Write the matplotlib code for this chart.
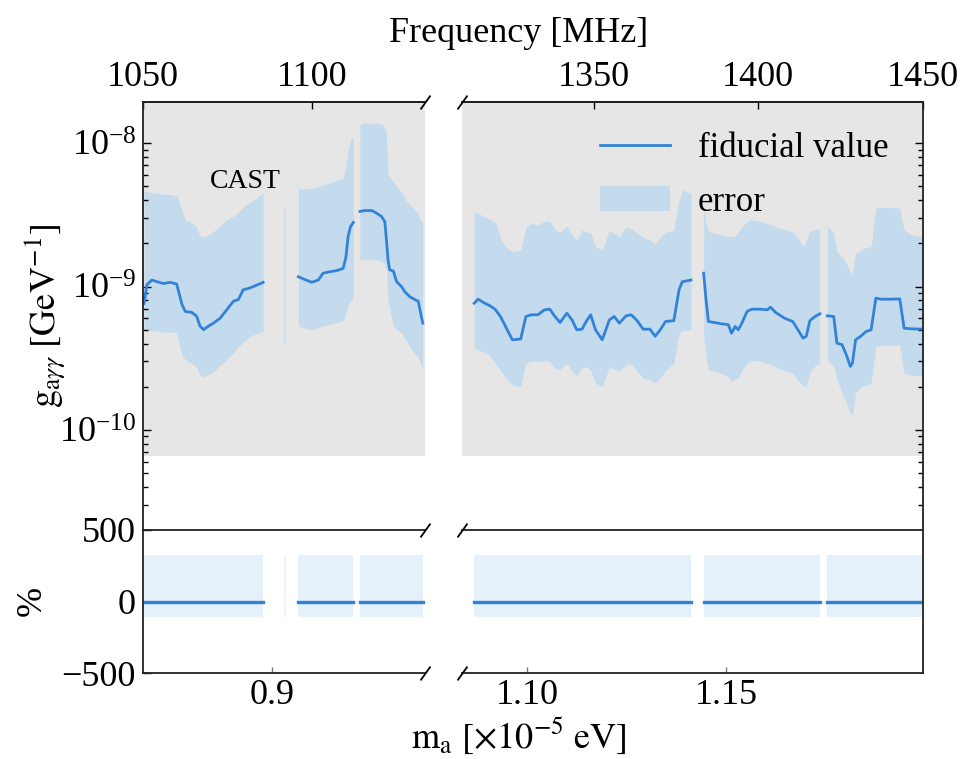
import numpy as np
import matplotlib.pyplot as plt

plt.rcParams['font.family'] = ['Liberation Serif', 'DejaVu Serif']
plt.rcParams['mathtext.fontset'] = 'stix'

# axion mass [1e-5 eV] -> radio line frequency [MHz], f = m c^2 / (2h)
MHZ_PER_MASS = 1209.0

# CAST bound and coupling values, g in units of 1e-10 GeV^-1
cast_limit = 0.66

# --- left block (1050-1134 MHz) ---
mass_a = [0.8687, 0.8694, 0.8706, 0.8719, 0.8735, 0.8751, 0.8767, 0.8780, 0.8788, 0.8804,
          0.8816, 0.8824, 0.8833, 0.8845, 0.8857, 0.8873, 0.8890, 0.8906, 0.8918, 0.8930,
          0.8943, 0.8955, 0.8979]
fid_a = [7.6, 10.3, 11.1, 10.8, 10.5, 10.7, 10.4, 7.5, 6.7, 6.6,
         6.2, 5.3, 5.0, 5.3, 5.55, 6.0, 6.9, 7.9, 8.1, 9.5,
         9.7, 10.0, 10.7]
up_a = [46, 46, 45, 45, 44, 44, 43, 34, 29, 28,
        26, 22.5, 22.3, 23.0, 24.2, 26.5, 29.2, 31, 33, 36,
        38, 40, 45]
lo_a = [5.0, 5.0, 4.9, 4.9, 4.8, 4.8, 4.8, 3.3, 3.1, 2.9,
        2.7, 2.4, 2.35, 2.45, 2.55, 2.8, 3.1, 3.45, 3.8, 4.1,
        4.4, 4.6, 4.85]

mass_s = [0.9031, 0.9035]
up_s = [36, 36]
lo_s = [4.0, 4.0]

mass_b = [0.9065, 0.9081, 0.9098, 0.9114, 0.9126, 0.9143, 0.9159, 0.9175, 0.9182, 0.9187,
          0.9193, 0.9200]
fid_b = [11.7, 11.2, 10.7, 11.1, 12.4, 12.7, 12.9, 13.4, 16.2, 22.3, 26.2, 28.0]
up_b = [47.8, 48, 48.5, 49.5, 51, 53, 55, 57, 70, 90, 105, 112]
lo_b = [5.3, 5.1, 5.0, 5.2, 5.3, 5.45, 5.6, 5.8, 6.5, 7.5, 8.0, 8.3]

mass_c = [0.9216, 0.9228, 0.9245, 0.9257, 0.9269, 0.9277, 0.9281, 0.9285, 0.9289, 0.9298,
          0.9306, 0.9318, 0.9326, 0.9338, 0.9351, 0.9359, 0.9365, 0.9370]
fid_c = [33.4, 33.9, 33.9, 32.5, 30.8, 28.4, 21.2, 15.3, 13.1, 12.8,
         10.8, 10.0, 9.2, 8.5, 8.1, 7.9, 6.5, 5.55]
up_c = [135, 138, 138, 138, 136, 130, 115, 60, 58, 54,
        50, 45.5, 41, 37.5, 34.5, 32, 29, 27.7]
lo_c = [15.4, 15.4, 15.4, 15.3, 15.0, 14.5, 13, 8.0, 7.0, 5.3,
        5.0, 4.75, 4.4, 3.8, 3.4, 3.2, 2.9, 2.6]

# --- right block (1310-1450 MHz) ---
mass_d = [1.0866, 1.0876, 1.0889, 1.0906, 1.0919, 1.0932, 1.0945, 1.0962, 1.0983, 1.0996,
          1.1009, 1.1026, 1.1043, 1.1056, 1.1069, 1.1082, 1.1099, 1.1112, 1.1124, 1.1137,
          1.1150, 1.1159, 1.1171, 1.1188, 1.1206, 1.1218, 1.1231, 1.1248, 1.1261, 1.1274,
          1.1291, 1.1308, 1.1321, 1.1334, 1.1347, 1.1368, 1.1381, 1.1389, 1.1411]
fid_d = [7.65, 8.16, 7.75, 7.33, 6.92, 6.18, 5.26, 4.25, 4.3, 6.18,
         6.35, 6.35, 6.88, 6.95, 6.18, 5.61, 6.52, 5.85, 4.99, 5.04,
         5.85, 6.35, 4.99, 4.25, 5.85, 6.18, 5.55, 6.25, 6.35, 5.85,
         5.04, 5.04, 4.50, 4.99, 5.70, 5.78, 9.48, 10.8, 11.1]
up_d = [33.4, 32.5, 30.8, 29.5, 28, 22, 19, 17.5, 17.9, 26,
        27.5, 27, 28.5, 28.5, 25, 24, 26.5, 23, 21, 24.8,
        24, 23.5, 19, 17.9, 24.8, 23.5, 22.3, 26, 25.5, 23.8,
        22, 21, 20, 22, 23.8, 24.8, 40, 47, 45]
lo_d = [3.72, 3.6, 3.5, 3.3, 2.9, 2.6, 2.3, 2.05, 2.0, 2.9,
        3.0, 3.0, 3.05, 3.0, 2.7, 2.65, 2.9, 2.55, 2.4, 2.7,
        2.75, 2.6, 2.12, 2.0, 2.76, 2.65, 2.55, 2.85, 2.85, 2.6,
        2.3, 2.23, 2.12, 2.3, 2.6, 2.9, 4.7, 4.9, 5.0]

mass_e = [1.1443, 1.1449, 1.1455, 1.1470, 1.1488, 1.1505, 1.1513, 1.1522, 1.1530, 1.1539,
          1.1552, 1.1564, 1.1586, 1.1603, 1.1611, 1.1624, 1.1646, 1.1667, 1.1680, 1.1693,
          1.1701, 1.1710, 1.1723, 1.1735]
fid_e = [12.4, 8.07, 5.70, 5.61, 5.49, 5.42, 4.72, 5.26, 4.99, 5.55,
         6.70, 6.95, 6.95, 6.88, 7.18, 6.59, 6.02, 5.70, 4.99, 4.36,
         4.5, 5.78, 6.18, 6.45]
up_e = [36, 28, 24.2, 23.5, 22.9, 22.5, 22.3, 22.3, 24, 26,
        28.4, 29.2, 28.5, 27.5, 27, 26, 25, 24, 22, 19,
        21, 24.2, 25, 25.3]
lo_e = [4.5, 3.2, 2.62, 2.55, 2.48, 2.35, 2.17, 2.25, 2.3, 2.6,
        2.92, 3.05, 3.0, 2.92, 2.85, 2.75, 2.6, 2.48, 2.2, 2.05,
        2.0, 2.5, 2.8, 2.92]

mass_f = [1.1754, 1.1770, 1.1778, 1.1791, 1.1800, 1.1812, 1.1817, 1.1825, 1.1838, 1.1851,
          1.1864, 1.1876, 1.1889, 1.1915, 1.1936, 1.1947, 1.1966, 1.1995]
fid_f = [6.25, 6.18, 4.03, 3.93, 3.43, 2.77, 2.92, 4.25, 4.5, 4.85,
         4.99, 8.3, 8.16, 8.16, 8.2, 5.12, 5.07, 5.04]
up_f = [26.2, 23.8, 17.5, 16.2, 14.8, 12.6, 12.4, 17, 18, 18.7,
        19, 35.2, 35.7, 35.5, 35.2, 24.8, 22.9, 22.3]
lo_f = [3.08, 2.76, 2.23, 1.8, 1.6, 1.3, 1.27, 1.8, 2.0, 2.05,
        2.12, 3.81, 3.85, 3.9, 3.9, 2.48, 2.4, 2.36]

# relative deviation panel [%]
pct_fid = 0
pct_up = 325
pct_lo = -110

left_xlim = (1050 / MHZ_PER_MASS - 0.00004, 1133.5 / MHZ_PER_MASS)
right_xlim = (1310 / MHZ_PER_MASS, 1450 / MHZ_PER_MASS + 0.00011)
left_freq_ticks = [1050, 1100]
right_freq_ticks = [1350, 1400, 1450]

left_segs = [(mass_a, fid_a, up_a, lo_a), (mass_b, fid_b, up_b, lo_b), (mass_c, fid_c, up_c, lo_c)]
right_segs = [(mass_d, fid_d, up_d, lo_d), (mass_e, fid_e, up_e, lo_e), (mass_f, fid_f, up_f, lo_f)]

line_c = '#3283d8'
band_c = '#c4dbee'
band_c2 = '#e4f1fb'
cast_c = '#e6e6e6'
FS = 26


def to_freq(m):
    return m * MHZ_PER_MASS


def to_mass(f):
    return f / MHZ_PER_MASS


W, H = 966, 759
fig = plt.figure(figsize=(W / 100, H / 100), dpi=100)
ax_tl = fig.add_axes([143 / W, 1 - 530 / H, 282 / W, 428 / H])
ax_tr = fig.add_axes([462 / W, 1 - 530 / H, 461 / W, 428 / H])
ax_bl = fig.add_axes([143 / W, 1 - 673 / H, 282 / W, 143 / H])
ax_br = fig.add_axes([462 / W, 1 - 673 / H, 461 / W, 143 / H])

handles = []
for ax, segs, extra in [(ax_tl, left_segs, True), (ax_tr, right_segs, False)]:
    ax.set_yscale('log')
    ax.axhspan(cast_limit * 1e-10, 1e-7, color=cast_c, lw=0, zorder=0)
    if extra:
        ax.fill_between(mass_s, np.array(lo_s) * 1e-10, np.array(up_s) * 1e-10,
                        color=band_c, alpha=0.6, lw=0, zorder=1)
    for m, fid, up, lo in segs:
        band = ax.fill_between(m, np.array(lo) * 1e-10, np.array(up) * 1e-10,
                               color=band_c, lw=0, zorder=1, label='error')
        line, = ax.plot(m, np.array(fid) * 1e-10, color=line_c, lw=2.0, zorder=2,
                        label='fiducial value')
        if not extra and not handles:
            handles = [line, band]
    ax.set_ylim(2.0e-11, 1.94e-8)

for ax, segs, extra in [(ax_bl, left_segs, True), (ax_br, right_segs, False)]:
    if extra:
        ax.fill_between(mass_s, pct_lo, pct_up, color=band_c2, alpha=0.6, lw=0)
    for m, fid, up, lo in segs:
        ax.fill_between([m[0], m[-1]], pct_lo, pct_up, color=band_c2, lw=0)
        ax.plot([m[0], m[-1]], [pct_fid, pct_fid], color=line_c, lw=2.4)
    ax.set_ylim(-500, 500)
    ax.set_yticks([-500, 0, 500])

for ax in (ax_tl, ax_bl):
    ax.set_xlim(*left_xlim)
for ax in (ax_tr, ax_br):
    ax.set_xlim(*right_xlim)

for ax in (ax_tl, ax_tr, ax_bl, ax_br):
    for sp in ax.spines.values():
        sp.set_linewidth(1.3)
        sp.set_color('#222222')
    ax.tick_params(which='both', direction='in', labelsize=FS, top=False, width=1)
    ax.tick_params(which='major', length=6, pad=5)
    ax.tick_params(which='minor', length=3.5)

ax_tl.spines[['right', 'bottom']].set_visible(False)
ax_tr.spines[['left', 'bottom']].set_visible(False)
ax_bl.spines['right'].set_visible(False)
ax_br.spines['left'].set_visible(False)

ax_tl.tick_params(which='both', bottom=False, labelbottom=False, right=False)
ax_tr.tick_params(which='both', bottom=False, labelbottom=False, left=False, labelleft=False, right=True)
ax_bl.tick_params(which='both', right=False)
ax_br.tick_params(which='both', left=False, labelleft=False, right=False)

ax_bl.set_xticks([0.9], ['0.9'])
ax_br.set_xticks([1.10, 1.15], ['1.10', '1.15'])
for ax in (ax_bl, ax_br):
    ax.tick_params(axis='x', length=4, pad=4, color='#777777')

for ax, ticks in [(ax_tl, left_freq_ticks), (ax_tr, right_freq_ticks)]:
    sec = ax.secondary_xaxis('top', functions=(to_freq, to_mass))
    sec.set_xticks(ticks)
    sec.tick_params(direction='in', length=5, width=1, labelsize=FS, pad=6)
    sec.spines['top'].set_linewidth(1.3)

# broken axis marks
kw = dict(marker=[(-1, -1.4), (1, 1.4)], markersize=10, linestyle='none',
          color='k', mec='k', mew=1.3, clip_on=False, zorder=5)
ax_tl.plot([1], [1], transform=ax_tl.transAxes, **kw)
ax_tr.plot([0], [1], transform=ax_tr.transAxes, **kw)
ax_bl.plot([1, 1], [0, 1], transform=ax_bl.transAxes, **kw)
ax_br.plot([0, 0], [0, 1], transform=ax_br.transAxes, **kw)

ax_tl.text(0.362, 0.815, 'CAST', transform=ax_tl.transAxes, ha='center', va='center', fontsize=20)

ax_tr.legend(handles, ['fiducial value', 'error'], loc='upper left', bbox_to_anchor=(0.30, 0.93),
             frameon=False, fontsize=25, borderpad=0, borderaxespad=0, handlelength=2.0,
             handletextpad=0.8, labelspacing=0.6)

fig.text(519 / W, 1 - 42 / H, 'Frequency [MHz]', ha='center', va='baseline', fontsize=FS)
fig.text(519 / W, 1 - 748 / H, r'$\mathrm{m_a\ [\times10^{-5}\ eV]}$', ha='center', va='baseline', fontsize=FS)
fig.text(45 / W, 1 - 316 / H, r'$\mathrm{g}_{\mathrm{a}\gamma\gamma}\ \mathrm{[GeV^{-1}]}$', rotation=90,
         ha='center', va='center', fontsize=FS)
fig.text(32 / W, 1 - 601 / H, '%', rotation=90, ha='center', va='center', fontsize=FS)

fig.savefig('out.png', dpi=100)
